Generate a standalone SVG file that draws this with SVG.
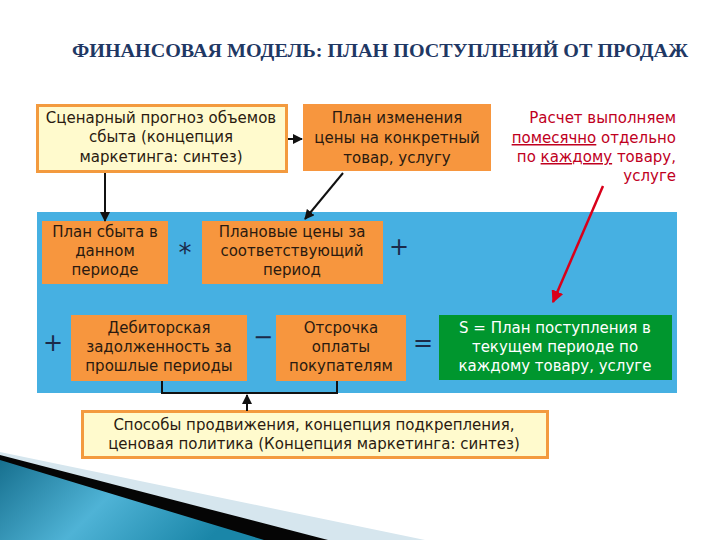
<svg xmlns="http://www.w3.org/2000/svg" width="720" height="540" viewBox="0 0 720 540">
<defs>
<style>
.t{font-family:"DejaVu Sans","Liberation Sans",sans-serif;font-size:15px;fill:#2a1a10;text-anchor:middle}
.w{fill:#ffffff}
.r{font-family:"DejaVu Sans","Liberation Sans",sans-serif;font-size:15px;fill:#c0001e;text-anchor:end}
.op{font-family:"DejaVu Sans","Liberation Sans",sans-serif;fill:#1b2a4a;text-anchor:middle}
.or{fill:#f7963e}
.ly{fill:#fffacd;stroke:#f39a3e;stroke-width:3}
.c{stroke:#111;stroke-width:2;fill:none}
</style>
<marker id="ah" viewBox="0 0 10 10" refX="9" refY="5" markerWidth="5" markerHeight="5" orient="auto">
<path d="M0,0 L10,5 L0,10 z" fill="#111"/>
</marker>
<marker id="ahr" viewBox="0 0 10 10" refX="9" refY="5" markerWidth="5" markerHeight="5" orient="auto">
<path d="M0,0 L10,5 L0,10 z" fill="#d9001a"/>
</marker>
<linearGradient id="bg" x1="0" y1="0" x2="1" y2="0.3">
<stop offset="0" stop-color="#17708f"/>
<stop offset="0.5" stop-color="#4fb3d6"/>
<stop offset="1" stop-color="#1a86a8"/>
</linearGradient>
</defs>
<rect x="0" y="0" width="720" height="540" fill="#ffffff"/>

<g id="decor">
<polygon points="0,452 425,540 0,540" fill="#d6e6ee"/>
<polygon points="0,455 328,540 0,540" fill="#050505"/>
<polygon points="0,460 264,540 0,540" fill="url(#bg)"/>
</g>

<text id="title" x="380" y="57" text-anchor="middle" font-family="'Liberation Serif','Times New Roman',serif" font-weight="bold" font-size="18" fill="#1f3864" textLength="616" lengthAdjust="spacingAndGlyphs">ФИНАНСОВАЯ МОДЕЛЬ: ПЛАН ПОСТУПЛЕНИЙ ОТ ПРОДАЖ</text>

<g id="panel">
<rect x="37" y="212" width="640" height="181" fill="#46b0e2"/>
</g>

<g id="scenario">
<rect class="ly" x="37.5" y="105.5" width="249" height="66"/>
<text class="t" x="161" y="123">Сценарный прогноз объемов</text>
<text class="t" x="161" y="142">сбыта (концепция</text>
<text class="t" x="161" y="162">маркетинга: синтез)</text>
</g>

<g id="price-change">
<rect class="or" x="303" y="104" width="188" height="67"/>
<text class="t" x="397" y="123">План изменения</text>
<text class="t" x="397" y="143">цены на конкретный</text>
<text class="t" x="397" y="163">товар, услугу</text>
</g>

<g id="note">
<text class="r" x="676" y="123">Расчет выполняем</text>
<text class="r" x="676" y="143"><tspan text-decoration="underline">помесячно</tspan> отдельно</text>
<text class="r" x="676" y="162">по <tspan text-decoration="underline">каждому</tspan> товару,</text>
<text class="r" x="676" y="181">услуге</text>
</g>

<g id="sales-plan">
<rect class="or" x="42" y="221" width="126" height="63"/>
<text class="t" x="105" y="237">План сбыта в</text>
<text class="t" x="105" y="256">данном</text>
<text class="t" x="105" y="275">периоде</text>
</g>

<g id="op-mul"><text class="op" x="185" y="262" font-size="26">*</text></g>

<g id="plan-prices">
<rect class="or" x="202" y="221" width="181" height="63"/>
<text class="t" x="292" y="237">Плановые цены за</text>
<text class="t" x="292" y="256">соответствующий</text>
<text class="t" x="292" y="275">период</text>
</g>

<g id="op-plus1"><text class="op" x="399" y="255" font-size="24">+</text></g>
<g id="op-plus2"><text class="op" x="53" y="351" font-size="24">+</text></g>

<g id="receivables">
<rect class="or" x="71" y="315" width="176" height="66"/>
<text class="t" x="159" y="333">Дебиторская</text>
<text class="t" x="159" y="352">задолженность за</text>
<text class="t" x="159" y="371">прошлые периоды</text>
</g>

<g id="op-minus"><text class="op" x="263" y="345" font-size="24">−</text></g>

<g id="deferral">
<rect class="or" x="276" y="315" width="130" height="66"/>
<text class="t" x="341" y="333">Отсрочка</text>
<text class="t" x="341" y="352">оплаты</text>
<text class="t" x="341" y="371">покупателям</text>
</g>

<g id="op-eq"><text class="op" x="423" y="351" font-size="24">=</text></g>

<g id="result">
<rect x="439" y="315" width="233" height="65" fill="#00962e"/>
<text class="t w" x="555" y="333">S = План поступления в</text>
<text class="t w" x="555" y="352">текущем периоде по</text>
<text class="t w" x="555" y="371">каждому товару, услуге</text>
</g>

<g id="promotion">
<rect class="ly" x="82.5" y="411.5" width="465" height="46"/>
<text class="t" x="314" y="430">Способы продвижения, концепция подкрепления,</text>
<text class="t" x="314" y="449">ценовая политика (Концепция маркетинга: синтез)</text>
</g>

<g id="connectors">
<line class="c" x1="105" y1="173" x2="105" y2="221" marker-end="url(#ah)"/>
<line class="c" x1="288" y1="139" x2="302" y2="139" marker-end="url(#ah)"/>
<line class="c" x1="343" y1="173" x2="305" y2="219" marker-end="url(#ah)"/>
<polyline class="c" points="162,381 162,393 337,393 337,381" stroke-width="1.5"/>
<line class="c" x1="247" y1="411" x2="247" y2="395" marker-end="url(#ah)"/>
<line x1="603" y1="186" x2="553" y2="302" stroke="#d9001a" stroke-width="2.5" marker-end="url(#ahr)"/>
</g>
</svg>
